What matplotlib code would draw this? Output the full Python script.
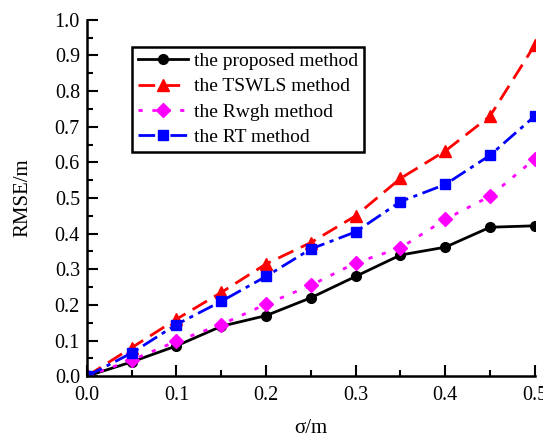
import matplotlib
matplotlib.use("Agg")
import matplotlib.pyplot as plt
from matplotlib.ticker import MultipleLocator

plt.rcParams["font.family"] = ["Liberation Serif", "DejaVu Serif"]

# ------------------------------------------------------------------
# Data
# ------------------------------------------------------------------
sigma = [0.0, 0.05, 0.1, 0.15, 0.2, 0.25, 0.3, 0.35, 0.4, 0.45, 0.5]
rmse_proposed = [0.0, 0.04, 0.085, 0.14, 0.17, 0.22, 0.28, 0.34, 0.362, 0.418, 0.422]
rmse_tswls = [0.0, 0.08, 0.16, 0.235, 0.315, 0.375, 0.45, 0.555, 0.632, 0.73, 0.93]
rmse_rwgh = [0.0, 0.045, 0.098, 0.145, 0.202, 0.255, 0.318, 0.36, 0.44, 0.505, 0.61]
rmse_rt = [0.0, 0.065, 0.145, 0.21, 0.28, 0.357, 0.405, 0.49, 0.538, 0.62, 0.73]

fig = plt.figure(figsize=(5.43, 4.41), dpi=100)
ax = fig.add_axes([0.160, 0.147, 0.825, 0.808])

ax.plot(sigma, rmse_proposed, color="black", lw=2, marker="o", ms=7,
        label="the proposed method")
ax.plot(sigma, rmse_tswls, color="red", lw=2, ls=(0, (6, 3)), marker="^", ms=8,
        label="the TSWLS method")
ax.plot(sigma, rmse_rwgh, color="magenta", lw=2, ls=(0, (1.5, 3.5)), marker="D", ms=7,
        label="the Rwgh method")
ax.plot(sigma, rmse_rt, color="blue", lw=2, ls=(0, (6, 2, 1.5, 2)), marker="s", ms=7,
        label="the RT method")

ax.set_xlim(0, 0.5)
ax.set_ylim(0, 1.0)
ax.xaxis.set_major_locator(MultipleLocator(0.1))
ax.xaxis.set_minor_locator(MultipleLocator(0.05))
ax.yaxis.set_major_locator(MultipleLocator(0.1))
ax.yaxis.set_minor_locator(MultipleLocator(0.05))
ax.xaxis.set_major_formatter(plt.FormatStrFormatter("%.1f"))
ax.yaxis.set_major_formatter(plt.FormatStrFormatter("%.1f"))
ax.tick_params(which="both", direction="in", labelsize=14.5, width=1.5)
ax.tick_params(which="major", length=8)
ax.tick_params(which="minor", length=4)
ax.tick_params(axis="x", which="major", pad=7)
ax.tick_params(axis="y", which="major", pad=5)

for side in ("top", "right"):
    ax.spines[side].set_visible(False)
for side in ("left", "bottom"):
    ax.spines[side].set_linewidth(1.8)

ax.set_xlabel("σ/m", fontsize=15, labelpad=10)
ax.set_ylabel("RMSE/m", fontsize=15, labelpad=16)

leg = ax.legend(loc="upper left", bbox_to_anchor=(0.10, 0.925), fontsize=14,
                fancybox=False, edgecolor="black", framealpha=1,
                handlelength=2.6, borderpad=0.3, labelspacing=0.4, handletextpad=0.3,
                borderaxespad=0)
leg.get_frame().set_linewidth(1.8)

fig.savefig("out.png", dpi=100)
